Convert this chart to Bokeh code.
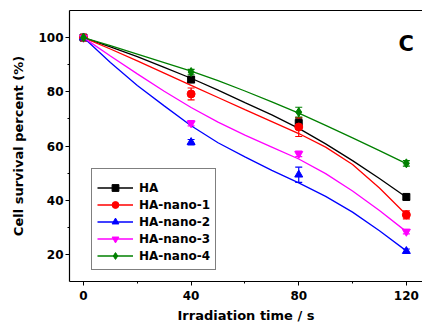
from bokeh.plotting import figure
from bokeh.models import (Range1d, FixedTicker, LinearAxis, Legend, LegendItem,
                          Whisker, ColumnDataSource, Label, TeeHead)
from bokeh.embed import file_html
from bokeh.resources import INLINE

# ---- data ----
time = [0, 40, 80, 120]
ha = [100, 84.5, 68.5, 41.2]
ha_err = [0.5, 1.0, 1.8, 1.0]
nano1 = [100, 79.2, 67.0, 34.6]
nano1_err = [0.5, 2.2, 3.5, 1.5]
nano2 = [100, 61.4, 49.4, 21.2]
nano2_err = [0.5, 1.0, 2.8, 0.8]
nano3 = [100, 68.4, 57.1, 28.4]
nano3_err = [0.5, 1.0, 1.0, 0.8]
nano4 = [100, 87.3, 72.5, 53.6]
nano4_err = [0.5, 1.0, 1.8, 1.0]

# fitted curves
fit_time = [0, 10, 20, 30, 40, 50, 60, 70, 80, 90, 100, 110, 120]
ha_fit = [100, 96.6, 93.0, 89.0, 85.0, 80.6, 76.0, 71.5, 66.5, 60.8, 54.6, 48.0, 41.1]
nano1_fit = [100, 95.8, 91.4, 86.9, 82.4, 77.9, 73.4, 69.0, 64.6, 59.6, 53.2, 44.5, 34.6]
nano2_fit = [100, 90.8, 82.3, 74.8, 67.5, 61.2, 56.0, 51.0, 46.4, 41.4, 35.6, 28.7, 21.3]
nano3_fit = [100, 93.2, 86.6, 80.2, 74.2, 68.8, 64.0, 59.6, 55.2, 49.8, 43.4, 36.2, 28.4]
nano4_fit = [100, 97.0, 93.9, 90.8, 87.6, 84.1, 80.3, 76.3, 72.1, 67.6, 63.0, 58.3, 53.5]

labels = ["HA", "HA-nano-1", "HA-nano-2", "HA-nano-3", "HA-nano-4"]
colors = ["#000000", "#ff0000", "#0000ff", "#ff00ff", "#008000"]
markers = ["square", "circle", "triangle", "inverted_triangle", "diamond"]
sizes = [7, 8, 8, 8, 9]

x_ticks = [0, 40, 80, 120]
x_minor = [20, 60, 100]
y_ticks = [20, 40, 60, 80, 100]
y_minor = [30, 50, 70, 90]

FONT = "DejaVu Sans"

p = figure(width=422, height=328, output_backend="svg", toolbar_location=None,
           x_range=Range1d(-5.2, 126), y_range=Range1d(10, 110),
           min_border_left=69, min_border_right=0, min_border_top=10,
           min_border_bottom=47)
p.outline_line_color = None
p.grid.visible = False
p.background_fill_color = "white"
p.border_fill_color = "white"

for ax in (p.xaxis[0], p.yaxis[0]):
    ax.axis_line_color = "black"
    ax.axis_line_width = 1.2
    ax.major_tick_line_color = "black"
    ax.minor_tick_line_color = "black"
    ax.major_tick_out = 4
    ax.major_tick_in = 0
    ax.minor_tick_out = 2
    ax.minor_tick_in = 0
    ax.major_label_text_font = FONT
    ax.major_label_text_font_style = "bold"
    ax.major_label_text_font_size = "12px"
    ax.major_label_text_color = "black"
    ax.axis_label_text_font = FONT
    ax.axis_label_text_font_style = "bold"
    ax.axis_label_text_font_size = "13px"
    ax.axis_label_text_color = "black"

p.xaxis.ticker = FixedTicker(ticks=x_ticks, minor_ticks=x_minor)
p.yaxis.ticker = FixedTicker(ticks=y_ticks, minor_ticks=y_minor)
p.xaxis.axis_label = "Irradiation time / s"
p.yaxis.axis_label = "Cell survival percent (%)"
p.xaxis.major_label_standoff = 5
p.xaxis.axis_label_standoff = 5
p.yaxis.major_label_standoff = 2
p.yaxis.axis_label_standoff = 9

top = LinearAxis(ticker=FixedTicker(ticks=[]), major_tick_out=0, major_tick_in=0,
                 minor_tick_out=0, minor_tick_in=0, axis_line_color="black",
                 axis_line_width=1.2, major_label_text_font_size="0px")
p.add_layout(top, "above")

series = [(ha, ha_err, ha_fit), (nano1, nano1_err, nano1_fit),
          (nano2, nano2_err, nano2_fit), (nano3, nano3_err, nano3_fit),
          (nano4, nano4_err, nano4_fit)]

items = []
for (vals, errs, fit), lab, col, mk, sz in zip(series, labels, colors, markers, sizes):
    line_r = p.line(fit_time, fit, line_color=col, line_width=1.3)
    src = ColumnDataSource(dict(x=time, y=vals,
                                upper=[v + e for v, e in zip(vals, errs)],
                                lower=[v - e for v, e in zip(vals, errs)]))
    w = Whisker(source=src, base="x", upper="upper", lower="lower",
                line_color=col, line_width=1.2,
                upper_head=TeeHead(size=7, line_color=col, line_width=1.2),
                lower_head=TeeHead(size=7, line_color=col, line_width=1.2))
    p.add_layout(w)
    sc = p.scatter("x", "y", source=src, marker=mk, size=sz,
                   fill_color=col, line_color=col)
    items.append(LegendItem(label=lab, renderers=[line_r, sc]))

legend = Legend(items=items, location=(22, 11))
legend.title = " "
legend.title_text_font_size = "1px"
legend.title_standoff = 4
legend.border_line_color = "black"
legend.border_line_width = 1
legend.background_fill_color = "white"
legend.background_fill_alpha = 1
legend.label_text_font = FONT
legend.label_text_font_style = "bold"
legend.label_text_font_size = "12px"
legend.label_text_color = "black"
legend.glyph_width = 36
legend.glyph_height = 17
legend.label_height = 17
legend.spacing = 0
legend.padding = 5
legend.margin = 0
legend.label_standoff = 6
p.add_layout(legend)

p.add_layout(Label(x=117.1, y=97.6, text="C", text_font=FONT,
                   text_font_style="bold", text_font_size="21px",
                   text_color="black", text_align="left",
                   text_baseline="alphabetic"))

open("out.html", "w").write(file_html(p, INLINE))
